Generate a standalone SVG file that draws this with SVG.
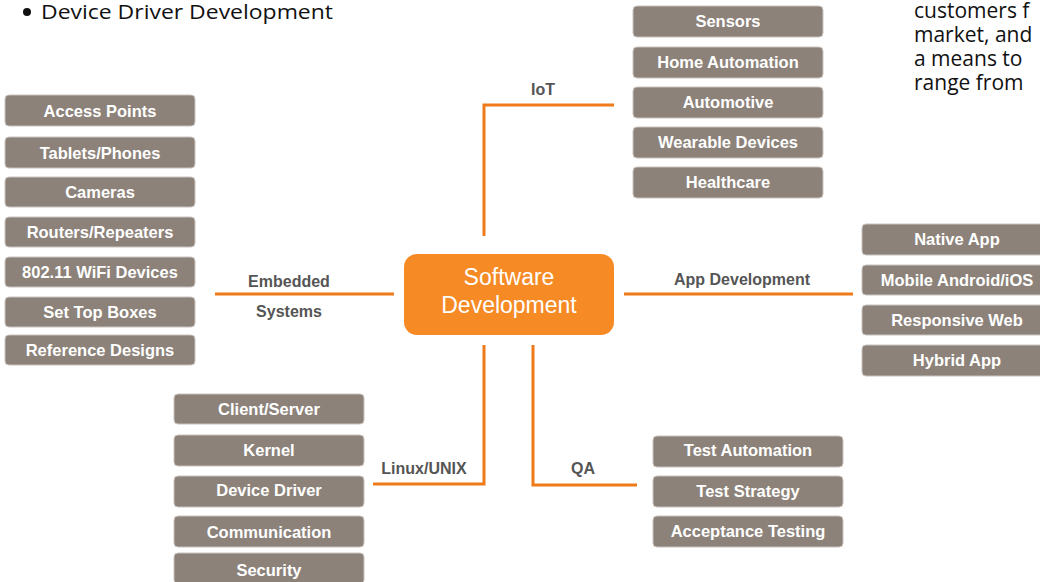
<svg xmlns="http://www.w3.org/2000/svg" width="1040" height="582" viewBox="0 0 1040 582">
<style>
.box{fill:#8C827A;stroke:#C9C2BD;stroke-width:1}
.bt{font-family:"Liberation Sans",Arial,sans-serif;font-weight:bold;font-size:16.5px;fill:#FFFFFF;text-anchor:middle}
.lbl{font-family:"Liberation Sans",Arial,sans-serif;font-weight:bold;font-size:16px;fill:#555555;text-anchor:middle}
.con{fill:none;stroke:#EE7A1A;stroke-width:3}
.body{font-family:"Open Sans","Noto Sans",sans-serif;font-size:20px;fill:#111111}
.rt{font-family:"Open Sans","Noto Sans",sans-serif;font-size:21px;fill:#111111}
.ct{font-family:"Liberation Sans",Arial,sans-serif;font-size:23px;fill:#FFFFFF;text-anchor:middle}
</style>
<rect width="1040" height="582" fill="#FFFFFF"/>
<g id="bullet-text">
<circle cx="27" cy="12" r="4" fill="#111111"/>
<text class="body" x="41" y="19" textLength="292" lengthAdjust="spacingAndGlyphs">Device Driver Development</text>
</g>
<g id="right-text">
<text class="rt" x="914" y="18">customers f</text>
<text class="rt" x="914" y="42">market, and</text>
<text class="rt" x="914" y="66">a means to</text>
<text class="rt" x="914" y="90">range from</text>
</g>
<g id="connectors">
<line class="con" x1="215" y1="294" x2="394" y2="294"/>
<line class="con" x1="624" y1="294" x2="853" y2="294"/>
<polyline class="con" points="484,236 484,105 614,105"/>
<polyline class="con" points="484,345 484,484 373,484"/>
<polyline class="con" points="533,345 533,485 637,485"/>
</g>
<g id="labels">
<text class="lbl" x="543" y="95">IoT</text>
<text class="lbl" x="289" y="287">Embedded</text>
<text class="lbl" x="289" y="317">Systems</text>
<text class="lbl" x="742" y="285">App Development</text>
<text class="lbl" x="424" y="474">Linux/UNIX</text>
<text class="lbl" x="583" y="474">QA</text>
</g>
<g id="center">
<rect x="404" y="254" width="210" height="81" rx="13" fill="#F68A24"/>
<text class="ct" x="509" y="285">Software</text>
<text class="ct" x="509" y="313">Development</text>
</g>
<g id="embedded">
<rect class="box" x="5" y="95" width="190" height="31" rx="4"/><text class="bt" x="100" y="117">Access Points</text>
<rect class="box" x="5" y="137" width="190" height="31" rx="4"/><text class="bt" x="100" y="159">Tablets/Phones</text>
<rect class="box" x="5" y="177" width="190" height="30" rx="4"/><text class="bt" x="100" y="198">Cameras</text>
<rect class="box" x="5" y="217" width="190" height="30" rx="4"/><text class="bt" x="100" y="238">Routers/Repeaters</text>
<rect class="box" x="5" y="257" width="190" height="30" rx="4"/><text class="bt" x="100" y="278">802.11 WiFi Devices</text>
<rect class="box" x="5" y="297" width="190" height="30" rx="4"/><text class="bt" x="100" y="318">Set Top Boxes</text>
<rect class="box" x="5" y="335" width="190" height="30" rx="4"/><text class="bt" x="100" y="356">Reference Designs</text>
</g>
<g id="iot">
<rect class="box" x="633" y="6" width="190" height="31" rx="4"/><text class="bt" x="728" y="27">Sensors</text>
<rect class="box" x="633" y="47" width="190" height="31" rx="4"/><text class="bt" x="728" y="68">Home Automation</text>
<rect class="box" x="633" y="87" width="190" height="31" rx="4"/><text class="bt" x="728" y="108">Automotive</text>
<rect class="box" x="633" y="127" width="190" height="31" rx="4"/><text class="bt" x="728" y="148">Wearable Devices</text>
<rect class="box" x="633" y="167" width="190" height="31" rx="4"/><text class="bt" x="728" y="188">Healthcare</text>
</g>
<g id="app">
<rect class="box" x="862" y="224" width="190" height="31" rx="4"/><text class="bt" x="957" y="245">Native App</text>
<rect class="box" x="862" y="265" width="190" height="30" rx="4"/><text class="bt" x="957" y="286">Mobile Android/iOS</text>
<rect class="box" x="862" y="305" width="190" height="30" rx="4"/><text class="bt" x="957" y="326">Responsive Web</text>
<rect class="box" x="862" y="345" width="190" height="31" rx="4"/><text class="bt" x="957" y="366">Hybrid App</text>
</g>
<g id="linux">
<rect class="box" x="174" y="394" width="190" height="30" rx="4"/><text class="bt" x="269" y="415">Client/Server</text>
<rect class="box" x="174" y="435" width="190" height="31" rx="4"/><text class="bt" x="269" y="456">Kernel</text>
<rect class="box" x="174" y="476" width="190" height="31" rx="4"/><text class="bt" x="269" y="496">Device Driver</text>
<rect class="box" x="174" y="516" width="190" height="31" rx="4"/><text class="bt" x="269" y="538">Communication</text>
<rect class="box" x="174" y="553" width="190" height="31" rx="4"/><text class="bt" x="269" y="576">Security</text>
</g>
<g id="qa">
<rect class="box" x="653" y="436" width="190" height="31" rx="4"/><text class="bt" x="748" y="456">Test Automation</text>
<rect class="box" x="653" y="476" width="190" height="31" rx="4"/><text class="bt" x="748" y="497">Test Strategy</text>
<rect class="box" x="653" y="516" width="190" height="31" rx="4"/><text class="bt" x="748" y="537">Acceptance Testing</text>
</g>
</svg>
